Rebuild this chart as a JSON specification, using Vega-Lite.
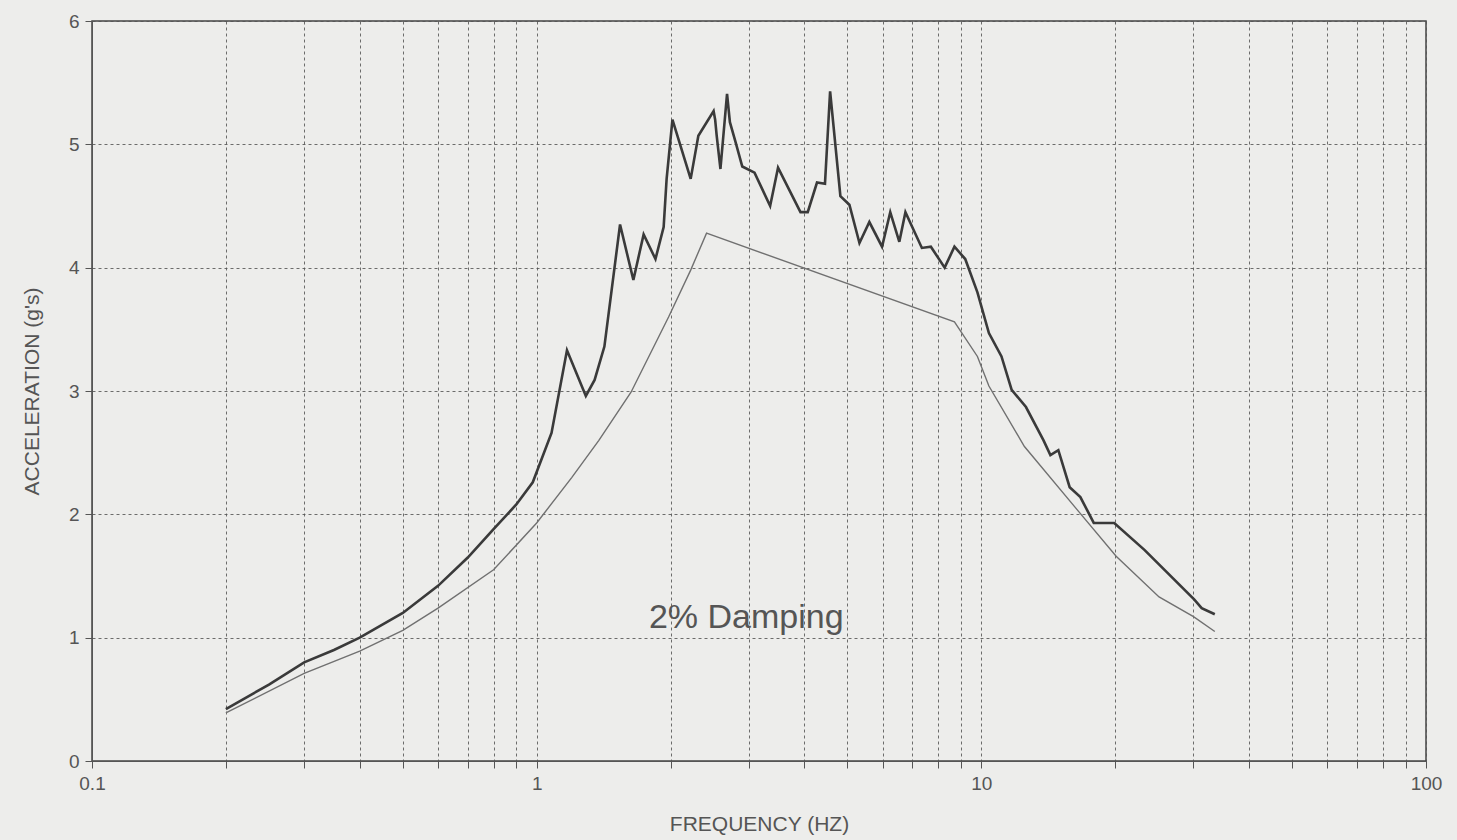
{
  "$schema": "https://vega.github.io/schema/vega-lite/v6.json",
  "width": 1334,
  "height": 740,
  "autosize": {"type": "none"},
  "padding": {"left": 92, "top": 21, "right": 31, "bottom": 79},
  "background": "#ededeb",
  "config": {
    "view": {"stroke": "#444444", "strokeWidth": 1.5},
    "font": "Liberation Sans",
    "axis": {
      "labelFont": "Liberation Sans",
      "titleFont": "Liberation Sans",
      "labelColor": "#555555",
      "titleColor": "#555555",
      "labelFontSize": 19,
      "titleFontSize": 21,
      "titleFontWeight": "normal",
      "gridColor": "#555555",
      "gridDash": [3, 3],
      "gridOpacity": 0.85,
      "gridWidth": 1,
      "domainColor": "#555555",
      "tickColor": "#555555",
      "tickSize": 7,
      "labelFlush": false
    }
  },
  "datasets": {
    "spectra": [
      {"f": 0.2, "a": 0.42, "s": "computed"},
      {"f": 0.25, "a": 0.62, "s": "computed"},
      {"f": 0.3, "a": 0.8, "s": "computed"},
      {"f": 0.35, "a": 0.9, "s": "computed"},
      {"f": 0.4, "a": 1.0, "s": "computed"},
      {"f": 0.5, "a": 1.2, "s": "computed"},
      {"f": 0.6, "a": 1.42, "s": "computed"},
      {"f": 0.7, "a": 1.65, "s": "computed"},
      {"f": 0.8, "a": 1.88, "s": "computed"},
      {"f": 0.9, "a": 2.08, "s": "computed"},
      {"f": 0.98, "a": 2.26, "s": "computed"},
      {"f": 1.08, "a": 2.66, "s": "computed"},
      {"f": 1.17, "a": 3.33, "s": "computed"},
      {"f": 1.29, "a": 2.96, "s": "computed"},
      {"f": 1.35, "a": 3.09, "s": "computed"},
      {"f": 1.42, "a": 3.36, "s": "computed"},
      {"f": 1.54, "a": 4.35, "s": "computed"},
      {"f": 1.65, "a": 3.9, "s": "computed"},
      {"f": 1.74, "a": 4.27, "s": "computed"},
      {"f": 1.85, "a": 4.07, "s": "computed"},
      {"f": 1.93, "a": 4.33, "s": "computed"},
      {"f": 1.96, "a": 4.72, "s": "computed"},
      {"f": 2.02, "a": 5.2, "s": "computed"},
      {"f": 2.22, "a": 4.72, "s": "computed"},
      {"f": 2.31, "a": 5.07, "s": "computed"},
      {"f": 2.5, "a": 5.27, "s": "computed"},
      {"f": 2.52, "a": 5.2, "s": "computed"},
      {"f": 2.54, "a": 5.07, "s": "computed"},
      {"f": 2.59, "a": 4.8, "s": "computed"},
      {"f": 2.68, "a": 5.41, "s": "computed"},
      {"f": 2.72, "a": 5.18, "s": "computed"},
      {"f": 2.8, "a": 5.02, "s": "computed"},
      {"f": 2.9, "a": 4.82, "s": "computed"},
      {"f": 3.09, "a": 4.77, "s": "computed"},
      {"f": 3.35, "a": 4.5, "s": "computed"},
      {"f": 3.49, "a": 4.81, "s": "computed"},
      {"f": 3.92, "a": 4.45, "s": "computed"},
      {"f": 4.07, "a": 4.45, "s": "computed"},
      {"f": 4.27, "a": 4.69, "s": "computed"},
      {"f": 4.45, "a": 4.68, "s": "computed"},
      {"f": 4.57, "a": 5.43, "s": "computed"},
      {"f": 4.82, "a": 4.58, "s": "computed"},
      {"f": 5.05, "a": 4.51, "s": "computed"},
      {"f": 5.32, "a": 4.2, "s": "computed"},
      {"f": 5.6, "a": 4.37, "s": "computed"},
      {"f": 5.98, "a": 4.17, "s": "computed"},
      {"f": 6.24, "a": 4.45, "s": "computed"},
      {"f": 6.54, "a": 4.21, "s": "computed"},
      {"f": 6.75, "a": 4.45, "s": "computed"},
      {"f": 7.35, "a": 4.16, "s": "computed"},
      {"f": 7.7, "a": 4.17, "s": "computed"},
      {"f": 8.27, "a": 4.0, "s": "computed"},
      {"f": 8.7, "a": 4.17, "s": "computed"},
      {"f": 9.2, "a": 4.07, "s": "computed"},
      {"f": 9.8, "a": 3.8, "s": "computed"},
      {"f": 10.4, "a": 3.47, "s": "computed"},
      {"f": 11.1, "a": 3.28, "s": "computed"},
      {"f": 11.7, "a": 3.01, "s": "computed"},
      {"f": 12.6, "a": 2.87, "s": "computed"},
      {"f": 13.8, "a": 2.6, "s": "computed"},
      {"f": 14.3, "a": 2.48, "s": "computed"},
      {"f": 14.9, "a": 2.52, "s": "computed"},
      {"f": 15.8, "a": 2.22, "s": "computed"},
      {"f": 16.7, "a": 2.14, "s": "computed"},
      {"f": 17.9, "a": 1.93, "s": "computed"},
      {"f": 19.9, "a": 1.93, "s": "computed"},
      {"f": 23.3, "a": 1.71, "s": "computed"},
      {"f": 30.1, "a": 1.31, "s": "computed"},
      {"f": 31.3, "a": 1.24, "s": "computed"},
      {"f": 33.5, "a": 1.19, "s": "computed"},
      {"f": 0.2, "a": 0.39, "s": "design"},
      {"f": 0.3, "a": 0.71, "s": "design"},
      {"f": 0.4, "a": 0.89, "s": "design"},
      {"f": 0.5, "a": 1.06, "s": "design"},
      {"f": 0.6, "a": 1.24, "s": "design"},
      {"f": 0.8, "a": 1.55, "s": "design"},
      {"f": 1.0, "a": 1.93, "s": "design"},
      {"f": 1.2, "a": 2.3, "s": "design"},
      {"f": 1.38, "a": 2.6, "s": "design"},
      {"f": 1.63, "a": 2.99, "s": "design"},
      {"f": 1.98, "a": 3.6, "s": "design"},
      {"f": 2.22, "a": 3.98, "s": "design"},
      {"f": 2.41, "a": 4.28, "s": "design"},
      {"f": 8.7, "a": 3.56, "s": "design"},
      {"f": 9.8, "a": 3.28, "s": "design"},
      {"f": 10.4, "a": 3.04, "s": "design"},
      {"f": 12.5, "a": 2.55, "s": "design"},
      {"f": 16.4, "a": 2.04, "s": "design"},
      {"f": 20.1, "a": 1.66, "s": "design"},
      {"f": 25.1, "a": 1.33, "s": "design"},
      {"f": 30.0, "a": 1.17, "s": "design"},
      {"f": 33.5, "a": 1.05, "s": "design"}
    ],
    "notes": [
      {"f": 2.96, "a": 1.16, "label": "2% Damping"}
    ]
  },
  "layer": [
    {
      "data": {"name": "spectra"},
      "mark": {"type": "line", "clip": true},
      "encoding": {
        "x": {
          "field": "f",
          "type": "quantitative",
          "scale": {"type": "log", "domain": [0.1, 100], "nice": false},
          "axis": {
            "title": "FREQUENCY (HZ)",
            "titlePadding": 20,
            "labelPadding": 6,
            "values": [0.1, 0.2, 0.3, 0.4, 0.5, 0.6, 0.7, 0.8, 0.9, 1, 2, 3, 4, 5, 6, 7, 8, 9, 10, 20, 30, 40, 50, 60, 70, 80, 90, 100],
            "format": "~g",
            "labelExpr": "datum.value == 0.1 || datum.value == 1 || datum.value == 10 || datum.value == 100 ? datum.label : ''",
            "grid": true
          }
        },
        "y": {
          "field": "a",
          "type": "quantitative",
          "scale": {"domain": [0, 6], "nice": false},
          "axis": {
            "title": "ACCELERATION  (g's)",
            "titlePadding": 26,
            "values": [0, 1, 2, 3, 4, 5, 6],
            "format": "d",
            "grid": true,
            "labelPadding": 6
          }
        },
        "color": {
          "field": "s",
          "type": "nominal",
          "scale": {"domain": ["computed", "design"], "range": ["#3a3a3a", "#707070"]},
          "legend": null
        },
        "strokeWidth": {
          "field": "s",
          "type": "nominal",
          "scale": {"domain": ["computed", "design"], "range": [2.6, 1.4]},
          "legend": null
        },
        "detail": {"field": "s"}
      }
    },
    {
      "data": {"name": "notes"},
      "mark": {"type": "text", "fontSize": 34, "color": "#555555", "font": "Liberation Sans", "align": "center", "baseline": "middle"},
      "encoding": {
        "x": {"field": "f", "type": "quantitative"},
        "y": {"field": "a", "type": "quantitative"},
        "text": {"field": "label"}
      }
    }
  ]
}
